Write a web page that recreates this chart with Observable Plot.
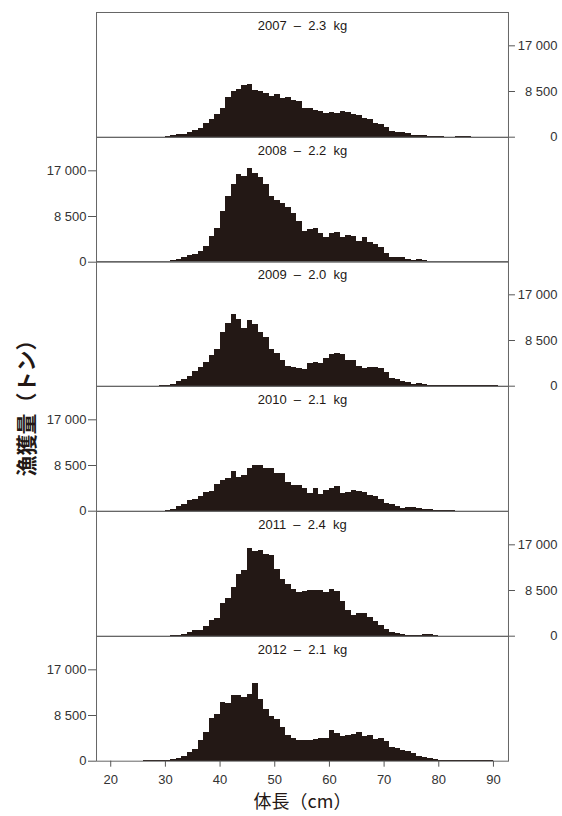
<!DOCTYPE html>
<html><head><meta charset="utf-8">
<script src="https://cdn.jsdelivr.net/npm/d3@7"></script>
<script src="https://cdn.jsdelivr.net/npm/@observablehq/plot@0.6"></script>
<style>
body{margin:0;background:#fff;}
#wrap{position:relative;width:562px;height:816px;overflow:hidden;background:#fff;}
#wrap svg{position:absolute;left:0;overflow:visible;background:transparent;}
#ylab{position:absolute;left:25px;top:403px;transform:translate(-50%,-50%) rotate(-90deg);font-family:"Noto Sans CJK JP",sans-serif;font-size:21px;font-weight:700;white-space:nowrap;color:#231815;line-height:1;}
</style></head>
<body><div id="wrap"><div id="ylab">漁獲量（トン）</div></div>
<script>
// bins: 1 cm, first bin starts at startCm
const startCm = 26;
const years = [2007, 2008, 2009, 2010, 2011, 2012];
const meanWeights = ["2.3", "2.2", "2.0", "2.1", "2.4", "2.1"];
const axisSides = ["right", "left", "right", "left", "right", "left"];
const yTicks = [0, 8500, 17000];
const xTicks = [20, 30, 40, 50, 60, 70, 80, 90];
const xLabel = "体長（cm）";

//                 26  27  28  29   30   31   32   33   34    35    36    37    38    39    40    41    42    43    44    45    46    47    48    49    50    51    52    53    54    55    56    57    58    59    60    61    62    63    64    65    66    67    68    69    70    71    72   73   74   75   76   77   78   79   80   81   82   83   84   85   86   87   88   89   90
const catch2007 = [0,  0,  0,  0,  150, 250, 450, 550, 860, 1230, 1660, 2460, 3260, 4190, 5420, 7390, 8440, 8930, 9670, 9800, 8750, 8440, 8130, 7500, 7880, 7270, 7450, 6900, 6700, 5360, 5420, 5050, 4740, 4370, 4680, 4370, 4870, 4680, 4250, 4070, 3390, 3260, 2530, 2400, 1850, 1110, 860, 800, 620, 370, 310, 250, 180, 180, 150, 0,   0,   100, 100, 100, 0,   0,   0,   0,   0];
const catch2008 = [0,  0,  0,  100, 100, 300, 550, 920, 1170, 1350, 1900, 3000, 4870, 6350, 9490, 12140, 14480, 16260, 16000, 17500, 16500, 15830, 14540, 12260, 11400, 10960, 10100, 9100, 7640, 5670, 6160, 6280, 5360, 4560, 5300, 5600, 4560, 4930, 4740, 3820, 4560, 3700, 3260, 2650, 1540, 920, 860, 800, 430, 370, 500, 250, 120, 120, 120, 120, 60,  60,  60,  60,  100, 100, 60,  0,   0];
const catch2009 = [0,  0,  0,  120, 120, 370, 800, 1230, 1850, 2710, 3450, 4430, 5670, 6900, 9980, 11580, 13430, 12320, 10780, 12200, 11460, 9920, 9120, 6900, 6160, 4800, 3700, 3510, 3260, 3020, 4190, 4430, 4190, 5170, 5850, 6100, 5910, 4800, 4870, 3700, 3330, 3570, 3450, 3200, 2530, 1480, 1230, 800, 740, 370, 550, 310, 180, 180, 180, 60,  60,  60,  60,  60,  60,  180, 60,  120, 60];
const catch2010 = [0,  0,  0,  0,  120, 370, 800, 1290, 1910, 2160, 2770, 3450, 3630, 4990, 5670, 6040, 7330, 6340, 6710, 7950, 8500, 8500, 8010, 7950, 7080, 6960, 5360, 4870, 4740, 4130, 3330, 4190, 3140, 3760, 4250, 4680, 3260, 3510, 3880, 3630, 3390, 2830, 2770, 2090, 1420, 1290, 800, 490, 680, 740, 490, 370, 310, 180, 180, 120, 60,  0,   0,   0,   0,   0,   0,   0,   0];
const catch2011 = [0,  0,  0,  0,  0,   120, 120, 370, 740, 1050, 1050, 1850, 2830, 3200, 6040, 6960, 8990, 11460, 12140, 16390, 15830, 16020, 15150, 14970, 12320, 10470, 9550, 8620, 8070, 8320, 8440, 8500, 8440, 8190, 8690, 8250, 6470, 4800, 3760, 4190, 4310, 3450, 2710, 2030, 1230, 680, 430, 250, 180, 180, 60,  250, 250, 60,  0,   0,   0,   0,   0,   0,   0,   0,   0,   0,   0];
const catch2012 = [100, 120, 150, 150, 180, 250, 430, 860, 1540, 2090, 3880, 5420, 7880, 8750, 10840, 10660, 12260, 12200, 11830, 12320, 14480, 11460, 9550, 8380, 7700, 6340, 4740, 4310, 3880, 3760, 3880, 4000, 4130, 4250, 5790, 5170, 4560, 4800, 5050, 5300, 4620, 4740, 4000, 4130, 3700, 2460, 2280, 1970, 1850, 1420, 800, 620, 430, 250, 120, 120, 120, 180, 180, 180, 180, 120, 120, 100, 0];

const series = [catch2007, catch2008, catch2009, catch2010, catch2011, catch2012];

const fmt = d => d3.format(",")(d).replace(/,/g, " ");
const barColor = "#231815";
const panelTop = 12, panelH = 124.7, M = 12;
const wrap = document.getElementById("wrap");

series.forEach((vals, i) => {
  const data = vals.map((v, j) => ({cm: startCm + j, v}));
  const last = i === series.length - 1;
  const mb = last ? 55 : M;
  const side = axisSides[i];
  const marks = [
    Plot.rectY(data, {x1: "cm", x2: d => d.cm + 1, y: "v", fill: barColor, shapeRendering: "crispEdges"}),
    Plot.text([`${years[i]}\u00a0\u00a0–\u00a0\u00a0${meanWeights[i]}\u00a0\u00a0kg`],
      {frameAnchor: "top", lineAnchor: "middle", dy: 13, fontSize: 13, fill: "#231815"}),
    Plot.axisY(yTicks, {
      anchor: side,
      tickSize: side === "left" ? 8 : 6,
      tickPadding: side === "left" ? 2 : 43,
      textAnchor: "end",
      tickFormat: fmt,
      fontSize: 13,
      fill: "#333",
      stroke: "#555",
      label: null
    }),
    Plot.frame({stroke: "#666"})
  ];
  if (last) {
    marks.push(
      Plot.axisX(xTicks, {anchor: "bottom", tickSize: 6, tickPadding: 8, fontSize: 13, fill: "#333", stroke: "#555", label: null}),
      Plot.text([xLabel], {frameAnchor: "bottom", lineAnchor: "middle", dy: 41, fontSize: 18, fontFamily: "'Noto Sans CJK JP', sans-serif", fill: "#231815"})
    );
  }
  const svg = Plot.plot({
    width: 562,
    height: panelH + M + mb,
    marginTop: M,
    marginBottom: mb,
    marginLeft: 96,
    marginRight: 54,
    x: {domain: [17.4, 92.75], ...(last ? {} : {axis: null})},
    y: {domain: [0, 23200]},
    style: {fontFamily: "'Liberation Sans', Arial, sans-serif", fontSize: "13px", background: "transparent", overflow: "visible"},
    marks
  });
  svg.style.top = (panelTop + i * panelH - M) + "px";
  wrap.appendChild(svg);
});
</script>
</body></html>
